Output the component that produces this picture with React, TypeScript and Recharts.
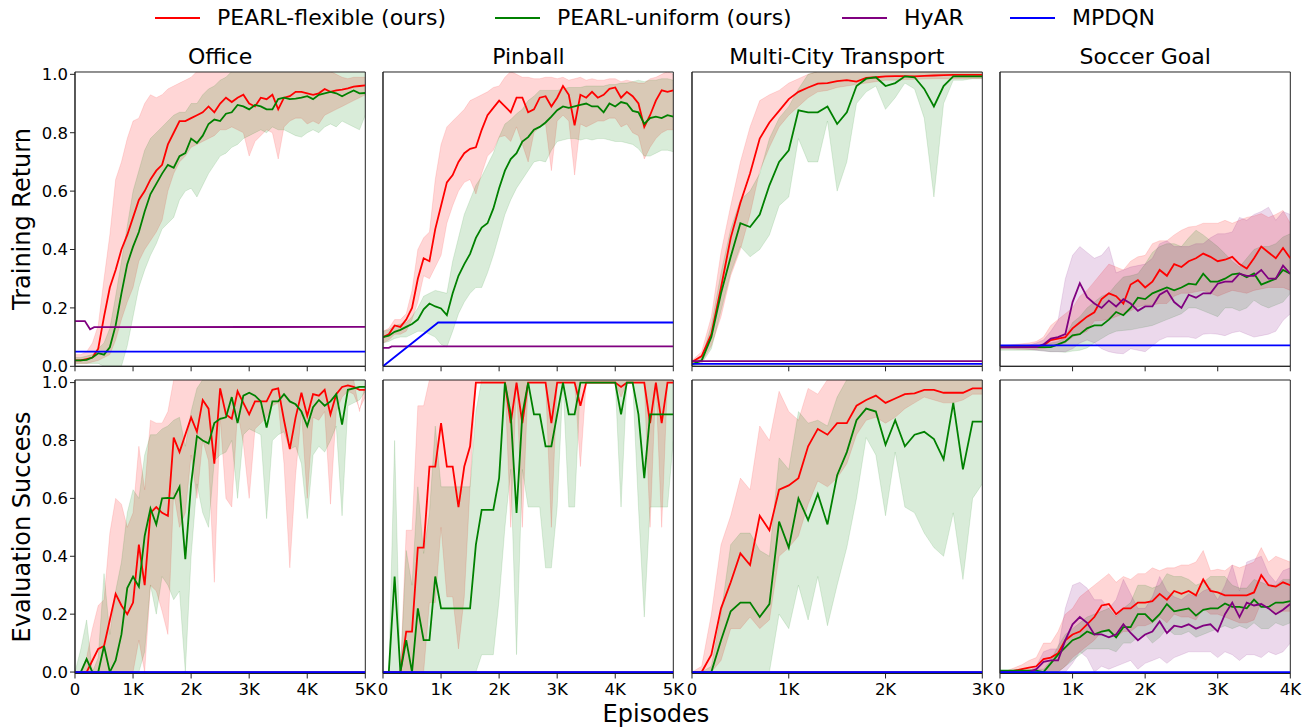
import React from 'react';
import { ComposedChart, Line, Area, XAxis, YAxis, ReferenceArea } from 'recharts';

const FONT = '"DejaVu Sans", sans-serif';
const RED = '#ff0000';
const GREEN = '#008000';
const PURPLE = '#800080';
const BLUE = '#0000ff';
const AXIS = '#222222';

// episode grids
const X5 = [
  0, 100, 200, 300, 400, 500, 600, 700, 800, 900, 1000,
  1100, 1200, 1300, 1400, 1500, 1600, 1700, 1800, 1900, 2000,
  2100, 2200, 2300, 2400, 2500, 2600, 2700, 2800, 2900, 3000,
  3100, 3200, 3300, 3400, 3500, 3600, 3700, 3800, 3900, 4000,
  4100, 4200, 4300, 4400, 4500, 4600, 4700, 4800, 4900, 5000,
];
const X3 = [
  0, 100, 200, 300, 400, 500, 600, 700, 800, 900, 1000,
  1100, 1200, 1300, 1400, 1500, 1600, 1700, 1800, 1900, 2000,
  2100, 2200, 2300, 2400, 2500, 2600, 2700, 2800, 2900, 3000,
];
const X4 = [
  0, 100, 200, 300, 400, 500, 600, 700, 800, 900, 1000,
  1100, 1200, 1300, 1400, 1500, 1600, 1700, 1800, 1900, 2000,
  2100, 2200, 2300, 2400, 2500, 2600, 2700, 2800, 2900, 3000,
  3100, 3200, 3300, 3400, 3500, 3600, 3700, 3800, 3900, 4000,
];

const TICKS5 = [0, 1000, 2000, 3000, 4000, 5000];
const TICKS3 = [0, 1000, 2000, 3000];
const TICKS4 = [0, 1000, 2000, 3000, 4000];
const Y_TICKS = [0, 0.2, 0.4, 0.6, 0.8, 1.0];

const TITLES = ['Office', 'Pinball', 'Multi-City Transport', 'Soccer Goal'];

// ---------- Office, training return ----------
const officeTrainRed = [
  0.02, 0.02, 0.025, 0.03, 0.06, 0.17, 0.27, 0.33, 0.40, 0.45, 0.51,
  0.57, 0.60, 0.64, 0.67, 0.69, 0.76, 0.80, 0.84, 0.84, 0.85,
  0.86, 0.87, 0.89, 0.87, 0.90, 0.92, 0.905, 0.92, 0.93, 0.90,
  0.89, 0.92, 0.915, 0.93, 0.88, 0.92, 0.925, 0.94, 0.94, 0.935,
  0.93, 0.935, 0.95, 0.94, 0.945, 0.948, 0.952, 0.958, 0.96, 0.962,
];
const officeTrainRedLo = [
  0.01, 0.01, 0.01, 0.015, 0.02, 0.03, 0.04, 0.09, 0.16, 0.22, 0.27,
  0.36, 0.40, 0.43, 0.46, 0.50, 0.60, 0.66, 0.70, 0.72, 0.75,
  0.76, 0.77, 0.78, 0.79, 0.81, 0.81, 0.82, 0.81, 0.80, 0.72,
  0.77, 0.79, 0.81, 0.80, 0.71, 0.82, 0.84, 0.85, 0.85, 0.83,
  0.84, 0.83, 0.86, 0.87, 0.88, 0.89, 0.90, 0.91, 0.92, 0.93,
];
const officeTrainRedHi = [
  0.04, 0.04, 0.05, 0.08, 0.14, 0.30, 0.45, 0.64, 0.70, 0.78, 0.84,
  0.85, 0.90, 0.93, 0.92, 0.93, 0.95, 0.96, 0.97, 0.98, 0.99,
  1.01, 1.01, 1.01, 1.01, 1.01, 1.01, 1.01, 1.01, 1.01, 1.01,
  1.01, 1.01, 1.01, 1.01, 1.01, 1.01, 1.01, 1.01, 1.01, 1.01,
  1.01, 1.01, 1.01, 1.01, 1.0, 0.99, 0.985, 0.99, 0.99, 0.99,
];
const officeTrainGreen = [
  0.02, 0.02, 0.022, 0.03, 0.045, 0.04, 0.065, 0.14, 0.25, 0.35, 0.41,
  0.46, 0.53, 0.59, 0.625, 0.66, 0.69, 0.68, 0.72, 0.73, 0.78,
  0.765, 0.79, 0.83, 0.845, 0.84, 0.865, 0.87, 0.895, 0.89, 0.88,
  0.895, 0.89, 0.88, 0.88, 0.915, 0.92, 0.915, 0.917, 0.92, 0.925,
  0.915, 0.93, 0.935, 0.94, 0.935, 0.925, 0.935, 0.945, 0.935, 0.936,
];
const officeTrainGreenLo = [
  0.01, 0.01, 0.01, 0.01, 0.01, 0.0, 0.0, 0.0, 0.0, 0.07, 0.17,
  0.27, 0.33, 0.38, 0.42, 0.47, 0.49, 0.51, 0.57, 0.60, 0.61,
  0.58, 0.62, 0.66, 0.69, 0.72, 0.73, 0.75, 0.76, 0.78, 0.79,
  0.80, 0.81, 0.80, 0.82, 0.81, 0.81, 0.80, 0.79, 0.785, 0.80,
  0.81, 0.80, 0.82, 0.83, 0.82, 0.84, 0.83, 0.82, 0.81, 0.86,
];
const officeTrainGreenHi = [
  0.03, 0.03, 0.035, 0.04, 0.06, 0.08, 0.13, 0.24, 0.36, 0.48, 0.60,
  0.67, 0.74, 0.78, 0.80, 0.82, 0.84, 0.86, 0.87, 0.87, 0.90,
  0.90, 0.93, 0.95, 0.96, 0.98, 0.99, 1.01, 1.01, 1.01, 1.01,
  1.01, 1.01, 1.01, 1.01, 1.01, 1.01, 1.01, 1.01, 1.01, 1.01,
  1.01, 1.01, 1.01, 1.01, 1.01, 1.01, 1.01, 1.01, 1.01, 1.01,
];
const officeTrainHyarX = [0, 170, 260, 330, 5000];
const officeTrainHyarY = [0.155, 0.155, 0.127, 0.134, 0.135];
const officeTrainMpdqnX = [0, 5000];
const officeTrainMpdqnY = [0.05, 0.05];

// ---------- Pinball, training return ----------
const pinTrainRed = [
  0.10, 0.11, 0.14, 0.135, 0.16, 0.2, 0.30, 0.37, 0.36, 0.47, 0.55,
  0.63, 0.655, 0.70, 0.73, 0.745, 0.75, 0.81, 0.86, 0.885, 0.91,
  0.89, 0.87, 0.92, 0.92, 0.87, 0.88, 0.92, 0.925, 0.89, 0.92,
  0.96, 0.93, 0.825, 0.93, 0.92, 0.94, 0.92, 0.93, 0.95, 0.955,
  0.92, 0.94, 0.925, 0.90, 0.82, 0.86, 0.91, 0.945, 0.94, 0.945,
];
const pinTrainRedLo = [
  0.08, 0.09, 0.11, 0.11, 0.12, 0.16, 0.22, 0.31, 0.30, 0.34, 0.38,
  0.49, 0.55, 0.60, 0.63, 0.64, 0.59, 0.66, 0.72, 0.74, 0.785,
  0.79, 0.77, 0.82, 0.76, 0.70, 0.80, 0.82, 0.83, 0.67, 0.84,
  0.86, 0.84, 0.655, 0.83, 0.82, 0.83, 0.84, 0.84, 0.85, 0.85,
  0.82, 0.83, 0.80, 0.79, 0.71, 0.75, 0.78, 0.80, 0.81, 0.81,
];
const pinTrainRedHi = [
  0.12, 0.13, 0.16, 0.16, 0.18, 0.26, 0.40, 0.44, 0.46, 0.64, 0.76,
  0.82, 0.84, 0.86, 0.88, 0.91, 0.92, 0.93, 0.94, 0.955, 0.96,
  0.99, 1.01, 1.0, 0.99, 0.99, 0.985, 0.985, 0.99, 0.99, 0.985,
  0.99, 0.98, 0.985, 0.99, 0.98, 0.985, 0.98, 0.98, 0.985, 0.985,
  0.975, 0.98, 0.975, 0.97, 0.97, 0.985, 0.99, 1.0, 1.01, 1.0,
];
const pinTrainGreen = [
  0.10, 0.105, 0.118, 0.125, 0.135, 0.145, 0.16, 0.195, 0.215, 0.205, 0.198,
  0.175, 0.25, 0.31, 0.35, 0.385, 0.44, 0.475, 0.49, 0.54, 0.61,
  0.67, 0.71, 0.73, 0.77, 0.785, 0.81, 0.82, 0.835, 0.855, 0.877,
  0.89, 0.885, 0.89, 0.895, 0.9, 0.89, 0.89, 0.87, 0.9, 0.89,
  0.905, 0.9, 0.875, 0.87, 0.83, 0.85, 0.855, 0.85, 0.86, 0.855,
];
const pinTrainGreenLo = [
  0.08, 0.085, 0.095, 0.10, 0.10, 0.11, 0.12, 0.12, 0.11, 0.10, 0.075,
  0.066, 0.12, 0.18, 0.22, 0.25, 0.27, 0.27, 0.32, 0.38, 0.45,
  0.52, 0.57, 0.61, 0.64, 0.67, 0.70, 0.705, 0.70, 0.74, 0.77,
  0.775, 0.78, 0.78, 0.775, 0.78, 0.775, 0.78, 0.78, 0.775, 0.77,
  0.77, 0.765, 0.76, 0.745, 0.72, 0.72, 0.73, 0.74, 0.74, 0.735,
];
const pinTrainGreenHi = [
  0.12, 0.125, 0.14, 0.145, 0.15, 0.17, 0.2, 0.24, 0.25, 0.26, 0.255,
  0.25, 0.36, 0.44, 0.52, 0.57, 0.62, 0.65, 0.69, 0.73, 0.785,
  0.83, 0.845, 0.865, 0.88, 0.91, 0.925, 0.945, 0.945, 0.945, 0.945,
  0.95, 0.955, 0.955, 0.955, 0.96, 0.96, 0.96, 0.96, 0.965, 0.965,
  0.97, 0.97, 0.975, 0.98, 0.975, 0.98, 0.98, 0.985, 0.985, 0.98,
];
const pinTrainHyarX = [0, 100, 150, 5000];
const pinTrainHyarY = [0.063, 0.063, 0.068, 0.068];
const pinTrainMpdqnX = [0, 950, 5000];
const pinTrainMpdqnY = [0.0, 0.15, 0.15];

// ---------- Multi-City Transport, training return ----------
const mctTrainRed = [
  0.015, 0.035, 0.11, 0.27, 0.44, 0.56, 0.66, 0.78, 0.835, 0.875, 0.915,
  0.94, 0.955, 0.968, 0.97, 0.977, 0.98, 0.975, 0.988, 0.99, 0.993,
  0.994, 0.994, 0.993, 0.995, 0.996, 0.997, 0.998, 0.998, 0.998, 0.998,
];
const mctTrainRedLo = [
  0.005, 0.015, 0.07, 0.17, 0.31, 0.40, 0.52, 0.67, 0.75, 0.82, 0.86,
  0.89, 0.92, 0.94, 0.945, 0.955, 0.96, 0.965, 0.97, 0.975, 0.98,
  0.98, 0.982, 0.983, 0.984, 0.985, 0.985, 0.985, 0.986, 0.986, 0.986,
];
const mctTrainRedHi = [
  0.02, 0.05, 0.17, 0.39, 0.55, 0.70, 0.82, 0.91, 0.93, 0.945, 0.97,
  0.985, 1.0, 1.01, 1.01, 1.01, 1.01, 1.01, 1.01, 1.01, 1.01,
  1.01, 1.01, 1.01, 1.01, 1.01, 1.01, 1.01, 1.01, 1.01, 1.01,
];
const mctTrainGreen = [
  0.007, 0.02, 0.10, 0.25, 0.375, 0.49, 0.477, 0.52, 0.62, 0.70, 0.74,
  0.877, 0.87, 0.87, 0.89, 0.83, 0.87, 0.96, 0.985, 0.99, 0.96,
  0.97, 0.993, 0.99, 0.95, 0.89, 0.96, 0.993, 0.993, 0.993, 0.993,
];
const mctTrainGreenLo = [
  0.0, 0.01, 0.06, 0.19, 0.32, 0.41, 0.375, 0.40, 0.45, 0.55, 0.58,
  0.78, 0.70, 0.70, 0.84, 0.60, 0.70, 0.90, 0.94, 0.96, 0.88,
  0.92, 0.97, 0.95, 0.85, 0.58, 0.90, 0.98, 0.98, 0.985, 0.985,
];
const mctTrainGreenHi = [
  0.01, 0.03, 0.14, 0.32, 0.47, 0.57, 0.60, 0.66, 0.78, 0.85, 0.89,
  0.95, 1.0, 1.01, 1.01, 1.01, 1.01, 1.01, 1.01, 1.01, 1.01,
  1.01, 1.01, 1.01, 1.01, 1.01, 1.01, 1.01, 1.01, 1.01, 1.01,
];
const mctTrainHyarX = [0, 3000];
const mctTrainHyarY = [0.018, 0.018];
const mctTrainMpdqnX = [0, 3000];
const mctTrainMpdqnY = [0.008, 0.008];

// ---------- Soccer Goal, training return ----------
const socTrainRed = [
  0.066, 0.066, 0.067, 0.066, 0.066, 0.068, 0.072, 0.09, 0.095, 0.10, 0.13,
  0.15, 0.17, 0.185, 0.23, 0.25, 0.24, 0.215, 0.28, 0.295, 0.27,
  0.29, 0.33, 0.31, 0.35, 0.34, 0.36, 0.37, 0.386, 0.375, 0.36,
  0.365, 0.375, 0.35, 0.335, 0.37, 0.41, 0.39, 0.37, 0.405, 0.37,
];
const socTrainRedLo = [
  0.06, 0.06, 0.059, 0.058, 0.058, 0.058, 0.06, 0.065, 0.07, 0.08, 0.10,
  0.11, 0.12, 0.155, 0.157, 0.16, 0.17, 0.18, 0.19, 0.203, 0.21,
  0.21, 0.215, 0.215, 0.24, 0.25, 0.25, 0.255, 0.26, 0.25, 0.24,
  0.25, 0.26, 0.255, 0.25, 0.26, 0.265, 0.27, 0.27, 0.27, 0.26,
];
const socTrainRedHi = [
  0.07, 0.072, 0.075, 0.077, 0.08, 0.085, 0.1, 0.14, 0.16, 0.18, 0.2,
  0.24, 0.26, 0.29, 0.32, 0.35, 0.34, 0.33, 0.36, 0.375, 0.38,
  0.42, 0.43, 0.43, 0.45, 0.466, 0.477, 0.48, 0.49, 0.49, 0.49,
  0.5, 0.49, 0.5, 0.51, 0.515, 0.523, 0.51, 0.52, 0.534, 0.49,
];
const socTrainGreen = [
  0.066, 0.066, 0.066, 0.066, 0.066, 0.066, 0.066, 0.066, 0.075, 0.085, 0.106,
  0.11, 0.13, 0.14, 0.14, 0.16, 0.186, 0.175, 0.2, 0.235, 0.23,
  0.25, 0.26, 0.27, 0.26, 0.27, 0.283, 0.28, 0.317, 0.29, 0.29,
  0.3, 0.315, 0.318, 0.305, 0.318, 0.28, 0.29, 0.3, 0.33, 0.317,
];
const socTrainGreenLo = [
  0.055, 0.055, 0.055, 0.055, 0.055, 0.055, 0.053, 0.05, 0.05, 0.048, 0.052,
  0.055, 0.063, 0.08, 0.095, 0.11, 0.12, 0.123, 0.125, 0.13, 0.135,
  0.14, 0.15, 0.16, 0.17, 0.18, 0.2, 0.2, 0.19, 0.18, 0.17,
  0.2, 0.2, 0.19, 0.2, 0.226, 0.21, 0.2, 0.21, 0.22, 0.25,
];
const socTrainGreenHi = [
  0.07, 0.07, 0.07, 0.07, 0.07, 0.072, 0.075, 0.08, 0.085, 0.1, 0.15,
  0.17, 0.2, 0.22, 0.24, 0.25, 0.28, 0.306, 0.31, 0.317, 0.35,
  0.39, 0.41, 0.42, 0.42, 0.41, 0.44, 0.466, 0.45, 0.43, 0.41,
  0.386, 0.36, 0.34, 0.37, 0.4, 0.41, 0.41, 0.42, 0.443, 0.454,
];
const socTrainPurple = [
  0.066, 0.066, 0.066, 0.066, 0.066, 0.066, 0.075, 0.095, 0.10, 0.11, 0.22,
  0.285, 0.237, 0.215, 0.2, 0.225, 0.205, 0.23, 0.215, 0.19, 0.205,
  0.205, 0.245, 0.26, 0.22, 0.2, 0.245, 0.235, 0.25, 0.25, 0.283,
  0.29, 0.29, 0.317, 0.31, 0.31, 0.33, 0.3, 0.3, 0.345, 0.317,
];
const socTrainPurpleLo = [
  0.06, 0.06, 0.06, 0.06, 0.058, 0.055, 0.052, 0.05, 0.05, 0.05, 0.06,
  0.08, 0.09, 0.08, 0.06, 0.05, 0.045, 0.043, 0.06, 0.055, 0.05,
  0.07, 0.09, 0.1, 0.1, 0.1, 0.1, 0.095, 0.11, 0.112, 0.11,
  0.105, 0.115, 0.12, 0.11, 0.1, 0.105, 0.11, 0.12, 0.157, 0.18,
];
const socTrainPurpleHi = [
  0.07, 0.07, 0.07, 0.07, 0.072, 0.08, 0.09, 0.12, 0.157, 0.3, 0.38,
  0.41, 0.39, 0.37, 0.38, 0.41, 0.32, 0.33, 0.34, 0.345, 0.35,
  0.37, 0.42, 0.43, 0.41, 0.41, 0.41, 0.42, 0.42, 0.44, 0.454,
  0.454, 0.46, 0.51, 0.5, 0.52, 0.53, 0.545, 0.5, 0.53, 0.52,
];
const socTrainMpdqnX = [0, 4000];
const socTrainMpdqnY = [0.072, 0.072];

// ---------- Office, evaluation success ----------
const officeEvalRed = [
  0, 0, 0, 0.04, 0.08, 0.09, 0.18, 0.27, 0.23, 0.20, 0.24,
  0.44, 0.30, 0.55, 0.57, 0.55, 0.54, 0.81, 0.76, 0.82, 0.88,
  0.83, 0.94, 0.91, 0.72, 0.98, 0.89, 0.875, 0.97, 0.93, 0.89,
  0.935, 0.935, 0.935, 0.975, 0.98, 0.87, 0.77, 0.88, 0.965, 0.885,
  0.96, 0.955, 0.975, 0.89, 0.96, 0.985, 0.99, 0.985, 0.975, 0.975,
];
const officeEvalRedLo = [
  0, 0, 0, 0, 0, 0, 0, 0, 0, 0, 0,
  0.11, 0.0, 0.3, 0.28, 0.21, 0.13, 0.62, 0.5, 0.55, 0.75,
  0.60, 0.80, 0.73, 0.31, 0.88, 0.6, 0.57, 0.9, 0.79, 0.6,
  0.84, 0.86, 0.88, 0.92, 0.93, 0.72, 0.36, 0.68, 0.9, 0.6,
  0.88, 0.87, 0.9, 0.58, 0.9, 0.95, 0.97, 0.96, 0.91, 0.95,
];
const officeEvalRedHi = [
  0, 0, 0.05, 0.15, 0.23, 0.25, 0.48, 0.60, 0.58, 0.5, 0.55,
  0.78, 0.63, 0.87, 0.86, 0.86, 0.9, 1.01, 1.01, 1.01, 1.01,
  1.01, 1.01, 1.01, 1.01, 1.01, 1.01, 1.01, 1.01, 1.01, 1.01,
  1.01, 1.01, 1.01, 1.01, 1.01, 1.01, 1.01, 1.01, 1.01, 1.01,
  1.01, 1.01, 1.01, 1.01, 1.01, 1.01, 1.01, 1.01, 0.9, 1.0,
];
const officeEvalGreen = [
  0, 0, 0.045, 0, 0, 0.09, 0, 0.04, 0.13, 0.29, 0.33,
  0.295, 0.47, 0.565, 0.51, 0.60, 0.602, 0.60, 0.64, 0.39, 0.65,
  0.815, 0.80, 0.79, 0.86, 0.875, 0.88, 0.95, 0.86, 0.955, 0.965,
  0.955, 0.935, 0.845, 0.935, 0.935, 0.96, 0.935, 0.925, 0.9, 0.85,
  0.915, 0.94, 0.92, 0.935, 0.96, 0.855, 0.975, 0.98, 0.985, 0.985,
];
const officeEvalGreenLo = [
  0, 0, 0, 0, 0, 0, 0, 0, 0, 0, 0,
  0, 0.07, 0.3, 0.2, 0.33, 0.3, 0.25, 0.28, 0.0, 0.4,
  0.65, 0.55, 0.5, 0.73, 0.75, 0.76, 0.8, 0.6, 0.82, 0.84,
  0.83, 0.82, 0.53, 0.8, 0.82, 0.83, 0.77, 0.78, 0.72, 0.53,
  0.75, 0.78, 0.76, 0.8, 0.85, 0.54, 0.92, 0.93, 0.94, 0.97,
];
const officeEvalGreenHi = [
  0, 0.08, 0.18, 0, 0.05, 0.34, 0.13, 0.28, 0.38, 0.55, 0.63,
  0.6, 0.75, 0.82, 0.82, 0.84, 0.85, 0.87, 0.88, 0.78, 0.9,
  0.98, 1.01, 1.01, 1.01, 1.01, 1.01, 1.01, 1.01, 1.01, 1.01,
  1.01, 1.01, 1.01, 1.01, 1.01, 1.01, 1.01, 1.01, 1.01, 1.01,
  1.01, 1.01, 1.01, 1.01, 1.01, 1.01, 1.01, 1.01, 1.01, 1.01,
];

// ---------- Pinball, evaluation success ----------
const pinEvalRed = [
  0, 0, 0, 0, 0.14, 0.14, 0.43, 0.43, 0.71, 0.71, 0.86,
  0.71, 0.71, 0.57, 0.71, 0.78, 1, 1, 1, 1, 1,
  1, 0.86, 1, 0.86, 1, 1, 1, 1, 0.86, 1,
  1, 1, 1, 0.92, 1, 1, 1, 1, 1, 1,
  0.985, 1, 1, 1, 1, 0.86, 1, 0.86, 1, 1,
];
const pinEvalRedLo = [
  0, 0, 0, 0, 0, 0, 0, 0, 0.24, 0.24, 0.5,
  0.26, 0.26, 0.08, 0.26, 0.64, 1, 1, 1, 1, 1,
  1, 0.5, 1, 0.5, 1, 1, 1, 1, 0.5, 1,
  1, 1, 1, 0.71, 1, 1, 1, 1, 1, 1,
  0.95, 1, 1, 1, 1, 0.5, 1, 0.5, 1, 1,
];
const pinEvalRedHi = [
  0, 0, 0, 0, 0.49, 0.49, 0.92, 0.92, 1.01, 1.01, 1.01,
  1.01, 1.01, 1.01, 1.01, 1.01, 1.01, 1.01, 1.01, 1.01, 1.01,
  1.01, 1.01, 1.01, 1.01, 1.01, 1.01, 1.01, 1.01, 1.01, 1.01,
  1.01, 1.01, 1.01, 1.01, 1.01, 1.01, 1.01, 1.01, 1.01, 1.01,
  1.01, 1.01, 1.01, 1.01, 1.01, 1.01, 1.01, 1.01, 1.01, 1.01,
];
const pinEvalGreen = [
  0, 0, 0.33, 0, 0.11, 0, 0.22, 0.11, 0.11, 0.33, 0.22,
  0.22, 0.22, 0.22, 0.22, 0.22, 0.44, 0.56, 0.56, 0.56, 0.67,
  1, 0.89, 0.55, 0.89, 1, 0.89, 0.89, 0.78, 0.78, 0.89,
  1, 0.89, 0.89, 1, 1, 1, 1, 1, 1, 1,
  0.89, 1, 1, 0.89, 0.67, 0.89, 0.89, 0.89, 0.89, 0.89,
];
const pinEvalGreenLo = [
  0, 0, 0, 0, 0, 0, 0, 0, 0, 0, 0,
  0, 0, 0, 0, 0, 0, 0.06, 0.06, 0.06, 0.25,
  0.5, 0.7, 0.06, 0.7, 0.57, 0.57, 0.57, 0.36, 0.36, 0.57,
  1, 0.57, 0.57, 1, 1, 1, 1, 1, 1, 1,
  0.57, 1, 1, 0.57, 0.19, 0.57, 0.57, 0.57, 0.57, 0.8,
];
const pinEvalGreenHi = [
  0, 0, 0.8, 0, 0.42, 0.3, 0.64, 0.41, 0.55, 0.85, 0.64,
  0.64, 0.64, 0.64, 0.64, 0.64, 0.9, 1.01, 1.01, 1.01, 1.01,
  1.01, 1.01, 1.01, 1.01, 1.01, 1.01, 1.01, 1.01, 1.01, 1.01,
  1.01, 1.01, 1.01, 1.01, 1.01, 1.01, 1.01, 1.01, 1.01, 1.01,
  1.01, 1.01, 1.01, 1.01, 1.01, 1.01, 1.01, 1.01, 1.01, 1.01,
];

// ---------- Multi-City Transport, evaluation success ----------
const mctEvalRed = [
  0, 0, 0.06, 0.22, 0.31, 0.41, 0.37, 0.54, 0.49, 0.63, 0.645,
  0.67, 0.78, 0.84, 0.82, 0.86, 0.86, 0.92, 0.94, 0.955, 0.93,
  0.945, 0.96, 0.963, 0.975, 0.975, 0.965, 0.965, 0.965, 0.98, 0.98,
];
const mctEvalRedLo = [
  0, 0, 0, 0.04, 0.15, 0.15, 0.19, 0.15, 0.18, 0.4, 0.43,
  0.47, 0.58, 0.66, 0.64, 0.67, 0.72, 0.82, 0.87, 0.88, 0.86,
  0.88, 0.91, 0.93, 0.95, 0.94, 0.93, 0.93, 0.94, 0.96, 0.96,
];
const mctEvalRedHi = [
  0, 0.02, 0.2, 0.44, 0.54, 0.67, 0.63, 0.85, 0.8, 0.97, 0.9,
  0.87, 0.98, 0.96, 1.01, 1.01, 1.01, 1.01, 1.01, 1.01, 1.01,
  1.01, 1.01, 1.01, 1.01, 1.01, 1.01, 1.01, 1.01, 1.01, 1.01,
];
const mctEvalGreen = [
  0, 0, 0, 0.11, 0.21, 0.24, 0.24, 0.19, 0.235, 0.52, 0.43,
  0.6, 0.525, 0.615, 0.51, 0.68, 0.76, 0.87, 0.91, 0.9, 0.785,
  0.87, 0.78, 0.82, 0.83, 0.805, 0.735, 0.93, 0.70, 0.865, 0.865,
];
const mctEvalGreenLo = [
  0, 0, 0, 0, 0, 0, 0, 0, 0, 0.2, 0.15,
  0.3, 0.18, 0.33, 0.16, 0.3, 0.43, 0.6, 0.81, 0.75, 0.54,
  0.76, 0.57, 0.55, 0.48, 0.43, 0.4, 0.55, 0.32, 0.6, 0.65,
];
const mctEvalGreenHi = [
  0, 0, 0.02, 0.2, 0.44, 0.48, 0.48, 0.42, 0.4, 0.74, 0.7,
  0.9, 0.86, 0.87, 0.85, 0.95, 1.01, 1.01, 1.01, 1.01, 1.01,
  1.01, 1.01, 1.01, 1.01, 1.01, 1.01, 1.01, 1.01, 1.01, 1.01,
];

// ---------- Soccer Goal, evaluation success ----------
const socEvalRed = [
  0, 0, 0.005, 0.01, 0.015, 0.02, 0.045, 0.05, 0.065, 0.11, 0.13,
  0.14, 0.165, 0.19, 0.23, 0.235, 0.2, 0.22, 0.22, 0.24, 0.24,
  0.245, 0.27, 0.25, 0.28, 0.27, 0.28, 0.265, 0.32, 0.28, 0.275,
  0.265, 0.265, 0.265, 0.265, 0.275, 0.335, 0.3, 0.295, 0.31, 0.3,
];
const socEvalRedLo = [
  0, 0, 0, 0, 0, 0, 0, 0, 0, 0.02, 0.05,
  0.07, 0.09, 0.11, 0.14, 0.14, 0.12, 0.14, 0.14, 0.16, 0.16,
  0.17, 0.19, 0.17, 0.2, 0.19, 0.19, 0.18, 0.22, 0.2, 0.2,
  0.19, 0.18, 0.17, 0.17, 0.18, 0.24, 0.22, 0.2, 0.21, 0.21,
];
const socEvalRedHi = [
  0, 0.005, 0.015, 0.025, 0.04, 0.05, 0.1, 0.1, 0.14, 0.2, 0.22,
  0.26, 0.28, 0.3, 0.32, 0.34, 0.31, 0.33, 0.32, 0.34, 0.34,
  0.36, 0.35, 0.36, 0.36, 0.37, 0.37, 0.38, 0.42, 0.35, 0.355,
  0.35, 0.37, 0.36, 0.37, 0.38, 0.43, 0.38, 0.4, 0.39, 0.38,
];
const socEvalGreen = [
  0.005, 0.005, 0.005, 0.005, 0.005, 0.005, 0, 0.03, 0.06, 0.085, 0.11,
  0.12, 0.14, 0.13, 0.14, 0.145, 0.12, 0.155, 0.155, 0.2, 0.2,
  0.175, 0.2, 0.235, 0.21, 0.215, 0.22, 0.195, 0.215, 0.22, 0.22,
  0.237, 0.225, 0.225, 0.22, 0.25, 0.225, 0.225, 0.24, 0.24, 0.245,
];
const socEvalGreenLo = [
  0, 0, 0, 0, 0, 0, 0, 0, 0, 0.02, 0.04,
  0.06, 0.08, 0.08, 0.08, 0.08, 0.07, 0.1, 0.1, 0.12, 0.13,
  0.1, 0.12, 0.15, 0.13, 0.13, 0.14, 0.12, 0.13, 0.14, 0.15,
  0.16, 0.15, 0.16, 0.15, 0.17, 0.15, 0.15, 0.17, 0.16, 0.17,
];
const socEvalGreenHi = [
  0.005, 0.005, 0.005, 0.005, 0.008, 0.01, 0.01, 0.04, 0.09, 0.13, 0.15,
  0.17, 0.19, 0.2, 0.21, 0.22, 0.19, 0.22, 0.24, 0.3, 0.3,
  0.29, 0.3, 0.34, 0.33, 0.33, 0.32, 0.3, 0.31, 0.33, 0.33,
  0.33, 0.3, 0.29, 0.29, 0.32, 0.31, 0.3, 0.3, 0.32, 0.32,
];
const socEvalPurple = [
  0, 0, 0, 0, 0, 0.01, 0.035, 0.04, 0.04, 0.11, 0.165,
  0.19, 0.17, 0.13, 0.13, 0.12, 0.13, 0.165, 0.135, 0.11, 0.13,
  0.14, 0.175, 0.135, 0.16, 0.155, 0.165, 0.15, 0.16, 0.165, 0.14,
  0.2, 0.24, 0.19, 0.24, 0.23, 0.235, 0.22, 0.2, 0.215, 0.235,
];
const socEvalPurpleLo = [
  0, 0, 0, 0, 0, 0, 0, 0, 0, 0, 0.03,
  0.07, 0.05, 0.0, 0.02, 0.01, 0.02, 0.03, 0.04, 0.01, 0.03,
  0.04, 0.05, 0.03, 0.05, 0.06, 0.07, 0.07, 0.07, 0.07, 0.05,
  0.07, 0.06, 0.04, 0.06, 0.06, 0.05, 0.07, 0.06, 0.07, 0.1,
];
const socEvalPurpleHi = [
  0, 0, 0, 0, 0.005, 0.02, 0.07, 0.08, 0.08, 0.22, 0.3,
  0.31, 0.29, 0.25, 0.25, 0.22, 0.25, 0.32, 0.27, 0.22, 0.22,
  0.26, 0.33, 0.28, 0.26, 0.25, 0.27, 0.26, 0.28, 0.29, 0.25,
  0.3, 0.37, 0.28, 0.38, 0.39, 0.4, 0.34, 0.31, 0.35, 0.36,
];

const EVAL_FLAT_X5 = [0, 5000];
const EVAL_FLAT_X3 = [0, 3000];
const EVAL_FLAT_X4 = [0, 4000];
const EVAL_FLAT_Y = [0, 0];

type Band = { mean: number[]; lo: number[]; hi: number[] };
type Flat = { x: number[]; y: number[] };
type Series = {
  x: number[];
  red: Band;
  green: Band;
  purple?: Band;
  hyar?: Flat;
  mpdqn: Flat;
};
type Column = { xMax: number; xTicks: number[]; train: Series; evaluation: Series };

const COLUMNS: Column[] = [
  {
    xMax: 5000,
    xTicks: TICKS5,
    train: {
      x: X5,
      red: { mean: officeTrainRed, lo: officeTrainRedLo, hi: officeTrainRedHi },
      green: { mean: officeTrainGreen, lo: officeTrainGreenLo, hi: officeTrainGreenHi },
      hyar: { x: officeTrainHyarX, y: officeTrainHyarY },
      mpdqn: { x: officeTrainMpdqnX, y: officeTrainMpdqnY },
    },
    evaluation: {
      x: X5,
      red: { mean: officeEvalRed, lo: officeEvalRedLo, hi: officeEvalRedHi },
      green: { mean: officeEvalGreen, lo: officeEvalGreenLo, hi: officeEvalGreenHi },
      hyar: { x: EVAL_FLAT_X5, y: EVAL_FLAT_Y },
      mpdqn: { x: EVAL_FLAT_X5, y: EVAL_FLAT_Y },
    },
  },
  {
    xMax: 5000,
    xTicks: TICKS5,
    train: {
      x: X5,
      red: { mean: pinTrainRed, lo: pinTrainRedLo, hi: pinTrainRedHi },
      green: { mean: pinTrainGreen, lo: pinTrainGreenLo, hi: pinTrainGreenHi },
      hyar: { x: pinTrainHyarX, y: pinTrainHyarY },
      mpdqn: { x: pinTrainMpdqnX, y: pinTrainMpdqnY },
    },
    evaluation: {
      x: X5,
      red: { mean: pinEvalRed, lo: pinEvalRedLo, hi: pinEvalRedHi },
      green: { mean: pinEvalGreen, lo: pinEvalGreenLo, hi: pinEvalGreenHi },
      hyar: { x: EVAL_FLAT_X5, y: EVAL_FLAT_Y },
      mpdqn: { x: EVAL_FLAT_X5, y: EVAL_FLAT_Y },
    },
  },
  {
    xMax: 3000,
    xTicks: TICKS3,
    train: {
      x: X3,
      red: { mean: mctTrainRed, lo: mctTrainRedLo, hi: mctTrainRedHi },
      green: { mean: mctTrainGreen, lo: mctTrainGreenLo, hi: mctTrainGreenHi },
      hyar: { x: mctTrainHyarX, y: mctTrainHyarY },
      mpdqn: { x: mctTrainMpdqnX, y: mctTrainMpdqnY },
    },
    evaluation: {
      x: X3,
      red: { mean: mctEvalRed, lo: mctEvalRedLo, hi: mctEvalRedHi },
      green: { mean: mctEvalGreen, lo: mctEvalGreenLo, hi: mctEvalGreenHi },
      hyar: { x: EVAL_FLAT_X3, y: EVAL_FLAT_Y },
      mpdqn: { x: EVAL_FLAT_X3, y: EVAL_FLAT_Y },
    },
  },
  {
    xMax: 4000,
    xTicks: TICKS4,
    train: {
      x: X4,
      red: { mean: socTrainRed, lo: socTrainRedLo, hi: socTrainRedHi },
      green: { mean: socTrainGreen, lo: socTrainGreenLo, hi: socTrainGreenHi },
      purple: { mean: socTrainPurple, lo: socTrainPurpleLo, hi: socTrainPurpleHi },
      mpdqn: { x: socTrainMpdqnX, y: socTrainMpdqnY },
    },
    evaluation: {
      x: X4,
      red: { mean: socEvalRed, lo: socEvalRedLo, hi: socEvalRedHi },
      green: { mean: socEvalGreen, lo: socEvalGreenLo, hi: socEvalGreenHi },
      purple: { mean: socEvalPurple, lo: socEvalPurpleLo, hi: socEvalPurpleHi },
      mpdqn: { x: EVAL_FLAT_X4, y: EVAL_FLAT_Y },
    },
  },
];

const LEGEND = [
  { label: 'PEARL-flexible (ours)', color: RED, x: 155 },
  { label: 'PEARL-uniform (ours)', color: GREEN, x: 495 },
  { label: 'HyAR', color: PURPLE, x: 842 },
  { label: 'MPDQN', color: BLUE, x: 1010 },
];

// plot-area geometry (pixels)
const LEFT0 = 75;
const COL_STEP = 308.33;
const PLOT_W = 290.3;
const ROWS = [
  { top: 71.7, h: 294.3, domain: [0, 1.008] as [number, number] },
  { top: 380, h: 293.5, domain: [-0.005, 1.009] as [number, number] },
];
const PAD_L = 50;
const PAD_T = 10;
const PAD_R = 22;
const PAD_B = 36;

const fmtK = (v: number) => (v === 0 ? '0' : `${v / 1000}K`);
const tickStyle = { fill: '#000', fontSize: 16.5, fontFamily: FONT };

function Panel({ col, row }: { col: number; row: number }) {
  const c = COLUMNS[col];
  const s = row === 0 ? c.train : c.evaluation;
  const geo = ROWS[row];
  const left = LEFT0 + COL_STEP * col;
  const data = s.x.map((x, i) => ({
    x,
    r: s.red.mean[i],
    rb: [s.red.lo[i], s.red.hi[i]],
    g: s.green.mean[i],
    gb: [s.green.lo[i], s.green.hi[i]],
    p: s.purple ? s.purple.mean[i] : undefined,
    pb: s.purple ? [s.purple.lo[i], s.purple.hi[i]] : undefined,
  }));
  const mpdqn = s.mpdqn.x.map((x, i) => ({ x, y: s.mpdqn.y[i] }));
  const hyar = s.hyar ? s.hyar.x.map((x, i) => ({ x, y: s.hyar!.y[i] })) : null;

  return (
    <div style={{ position: 'absolute', left: left - PAD_L, top: geo.top - PAD_T }}>
      <ComposedChart
        width={PAD_L + PLOT_W + PAD_R}
        height={PAD_T + geo.h + PAD_B}
        data={data}
        margin={{ top: PAD_T, right: PAD_R, bottom: 0, left: 0 }}
      >
        <XAxis
          dataKey="x"
          type="number"
          domain={[0, c.xMax]}
          ticks={c.xTicks}
          interval={0}
          allowDataOverflow
          height={PAD_B}
          tickSize={5}
          tickMargin={5}
          stroke={AXIS}
          tick={tickStyle}
          tickFormatter={row === 1 ? fmtK : () => ''}
        />
        <YAxis
          type="number"
          domain={geo.domain}
          allowDataOverflow
          ticks={Y_TICKS}
          interval={0}
          width={PAD_L}
          tickSize={5}
          tickMargin={2}
          tickLine={col === 0}
          tick={col === 0 ? tickStyle : false}
          tickFormatter={(v: number) => v.toFixed(1)}
          stroke={AXIS}
        />

        <Area type="linear" dataKey="rb" fill={RED} fillOpacity={0.16} stroke={RED} strokeOpacity={0.12} strokeWidth={1} dot={false} activeDot={false} isAnimationActive={false} />
        <Area type="linear" dataKey="gb" fill={GREEN} fillOpacity={0.15} stroke={GREEN} strokeOpacity={0.12} strokeWidth={1} dot={false} activeDot={false} isAnimationActive={false} />
        {s.purple && (
          <Area type="linear" dataKey="pb" fill={PURPLE} fillOpacity={0.15} stroke={PURPLE} strokeOpacity={0.12} strokeWidth={1} dot={false} activeDot={false} isAnimationActive={false} />
        )}

        <Line type="linear" dataKey="r" stroke={RED} strokeWidth={1.8} dot={false} activeDot={false} isAnimationActive={false} />
        <Line type="linear" dataKey="g" stroke={GREEN} strokeWidth={1.8} dot={false} activeDot={false} isAnimationActive={false} />
        {s.purple && (
          <Line type="linear" dataKey="p" stroke={PURPLE} strokeWidth={1.8} dot={false} activeDot={false} isAnimationActive={false} />
        )}
        {hyar && (
          <Line data={hyar} type="linear" dataKey="y" stroke={PURPLE} strokeWidth={1.8} dot={false} activeDot={false} isAnimationActive={false} />
        )}
        <Line data={mpdqn} type="linear" dataKey="y" stroke={BLUE} strokeWidth={1.8} dot={false} activeDot={false} isAnimationActive={false} />

        {/* axes frame */}
        <ReferenceArea
          x1={0}
          x2={c.xMax}
          y1={geo.domain[0]}
          y2={geo.domain[1]}
          fill="none"
          fillOpacity={0}
          stroke={AXIS}
          strokeWidth={1}
          strokeOpacity={1}
        />
      </ComposedChart>
    </div>
  );
}

export default function App() {
  const textBase: React.CSSProperties = {
    position: 'absolute',
    fontFamily: FONT,
    color: '#000',
    whiteSpace: 'nowrap',
    lineHeight: 1,
  };
  return (
    <div
      style={{
        position: 'absolute',
        left: 0,
        top: 0,
        width: 1312,
        height: 728,
        background: '#fff',
        overflow: 'hidden',
      }}
    >
      {LEGEND.map((l) => (
        <React.Fragment key={l.label}>
          <div style={{ position: 'absolute', left: l.x, top: 17, width: 45, height: 2, background: l.color }} />
          <div style={{ ...textBase, left: l.x + 62, top: 18, fontSize: 22, transform: 'translateY(-50%)' }}>
            {l.label}
          </div>
        </React.Fragment>
      ))}

      {TITLES.map((t, i) => (
        <div
          key={t}
          style={{
            ...textBase,
            left: LEFT0 + COL_STEP * i,
            width: PLOT_W,
            textAlign: 'center',
            top: 57,
            fontSize: 22,
            transform: 'translateY(-50%)',
          }}
        >
          {t}
        </div>
      ))}

      {[0, 1].map((row) =>
        [0, 1, 2, 3].map((col) => <Panel key={`${row}-${col}`} row={row} col={col} />)
      )}

      <div style={{ ...textBase, left: 22, top: 219, fontSize: 24, transform: 'translate(-50%, -50%) rotate(-90deg)' }}>
        Training Return
      </div>
      <div style={{ ...textBase, left: 22, top: 527, fontSize: 24, transform: 'translate(-50%, -50%) rotate(-90deg)' }}>
        Evaluation Success
      </div>
      <div style={{ ...textBase, left: 656, top: 714, fontSize: 24, transform: 'translate(-50%, -50%)' }}>
        Episodes
      </div>
    </div>
  );
}
